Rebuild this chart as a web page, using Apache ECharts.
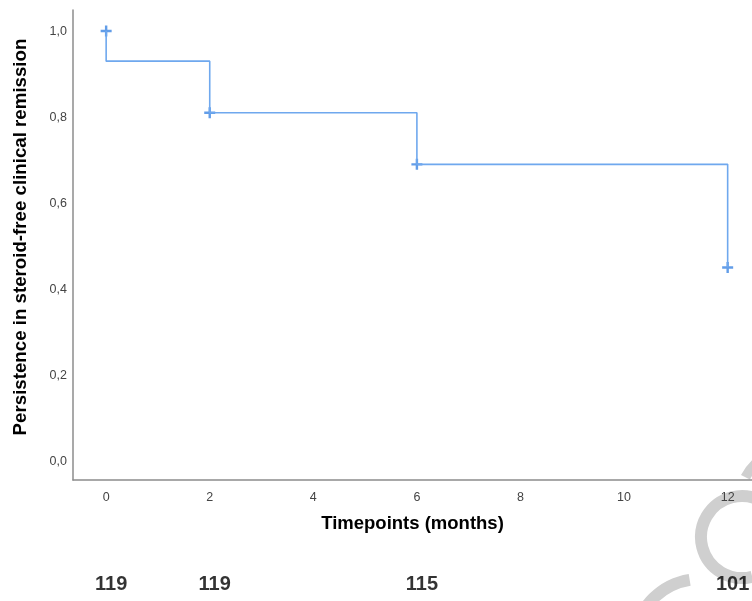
<!DOCTYPE html>
<html>
<head>
<meta charset="utf-8">
<script src="https://cdn.jsdelivr.net/npm/echarts@6/dist/echarts.min.js"></script>
<style>html,body{margin:0;padding:0;background:#fff}#c{width:752px;height:601px}</style>
</head>
<body>
<div id="c"></div>
<script>
// Kaplan-Meier data
const eventTimes = [0, 2, 6, 12];
const survival = [0.93, 0.81, 0.69, 0.45];
const startSurvival = 1.0;
const censorTimes = [0, 2, 6, 12];
const censorValues = [1.0, 0.81, 0.69, 0.45];
const riskTimes = [0, 2, 6, 12];
const riskCounts = [119, 119, 115, 101];
const xTicks = [0, 2, 4, 6, 8, 10, 12];
const yTicks = [0, 0.2, 0.4, 0.6, 0.8, 1.0];

const stepData = [[0, startSurvival]].concat(eventTimes.map((t, i) => [t, survival[i]]));
const XMIN = -0.64, XMAX = 12.47;

const chart = echarts.init(document.getElementById('c'));
chart.setOption({
  animation: false,
  grid: [
    {left: 73, right: 0, top: 10, bottom: 121, containLabel: false},
    {left: 73, right: 0, top: 570, height: 28}
  ],
  xAxis: [{
    type: 'value', gridIndex: 0, min: XMIN, max: XMAX,
    axisLine: {show: true, onZero: false, lineStyle: {color: '#8c8c8c', width: 1.5}},
    axisTick: {show: false},
    splitLine: {show: false},
    axisLabel: {
      color: '#444', fontSize: 12.5, fontFamily: 'Liberation Sans, Arial', margin: 11,
      customValues: xTicks, formatter: v => String(v)
    },
    name: 'Timepoints (months)', nameLocation: 'middle', nameGap: 34,
    nameTextStyle: {color: '#000', fontSize: 18.5, fontWeight: 'bold', fontFamily: 'Liberation Sans, Arial'}
  }, {
    type: 'value', gridIndex: 1, min: XMIN, max: XMAX, show: false
  }],
  yAxis: [{
    type: 'value', gridIndex: 0, min: -0.044, max: 1.049,
    axisLine: {show: true, onZero: false, lineStyle: {color: '#8c8c8c', width: 1.5}},
    axisTick: {show: false},
    splitLine: {show: false},
    axisLabel: {
      color: '#444', fontSize: 12.5, fontFamily: 'Liberation Sans, Arial', margin: 6,
      customValues: yTicks, formatter: v => v.toFixed(1).replace('.', ',')
    },
    name: 'Persistence in steroid-free clinical remission', nameLocation: 'middle', nameGap: 43,
    nameTextStyle: {color: '#000', fontSize: 18.7, fontWeight: 'bold', fontFamily: 'Liberation Sans, Arial',
      padding: [0, 0, 0, 16]}
  }, {
    type: 'value', gridIndex: 1, min: 0, max: 1, show: false
  }],
  series: [{
    type: 'line', xAxisIndex: 0, yAxisIndex: 0, step: 'end',
    data: stepData, symbol: 'none',
    lineStyle: {color: '#6fa8ee', width: 1.6}
  }, {
    type: 'scatter', xAxisIndex: 0, yAxisIndex: 0,
    data: censorTimes.map((t, i) => [t, censorValues[i]]),
    symbol: 'path://M3.9,0H6.1V3.9H10V6.1H6.1V10H3.9V6.1H0V3.9H3.9Z',
    symbolSize: 11,
    itemStyle: {color: '#3b84e2'}
  }, {
    type: 'scatter', xAxisIndex: 1, yAxisIndex: 1,
    data: riskTimes.map((t, i) => [t, 0.5, riskCounts[i]]),
    symbolSize: 0,
    label: {
      show: true, position: 'inside', offset: [5, 0],
      formatter: p => String(p.value[2]),
      color: '#000', fontSize: 20, fontWeight: 'bold', fontFamily: 'Liberation Sans, Arial'
    }
  }],
  graphic: [
    {type: 'arc', shape: {cx: 742, cy: 537, r: 41, startAngle: Math.PI * 0.42, endAngle: Math.PI * 1.62, clockwise: true},
     style: {stroke: '#cfcfcf', lineWidth: 12, fill: null}, z: -1},
    {type: 'arc', shape: {cx: 700, cy: 645, r: 66, startAngle: Math.PI * 1.05, endAngle: Math.PI * 1.45, clockwise: true},
     style: {stroke: '#cfcfcf', lineWidth: 12, fill: null}, z: -1},
    {type: 'arc', shape: {cx: 790, cy: 500, r: 50, startAngle: Math.PI * 1.15, endAngle: Math.PI * 1.3, clockwise: true},
     style: {stroke: '#cfcfcf', lineWidth: 10, fill: null}, z: -1}
  ]
});
</script>
</body>
</html>
